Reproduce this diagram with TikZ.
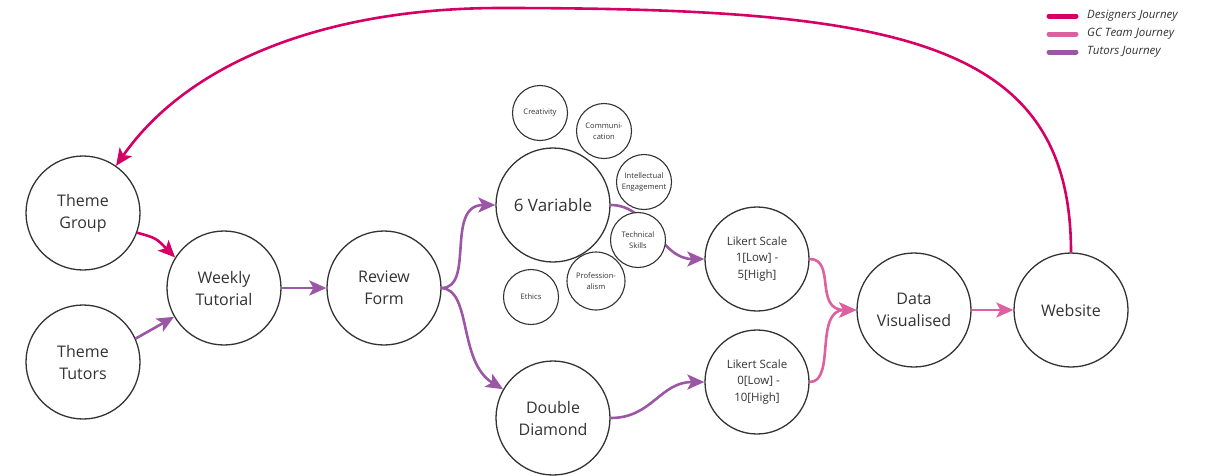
\documentclass[tikz,border=0pt]{standalone}
\usepackage{fontspec}
\setmainfont{Open Sans}
\usetikzlibrary{arrows.meta}
\definecolor{designers}{RGB}{214,0,100}
\definecolor{gcteam}{RGB}{221,96,160}
\definecolor{tutors}{RGB}{156,86,166}
\definecolor{ring}{RGB}{51,51,51}
\begin{document}
\begin{tikzpicture}[x=1pt, y=-1pt,
    stage/.style={circle, draw=ring, line width=1.3pt, fill=white, text=ring, minimum size=114pt, inner sep=0pt, align=center, font=\fontsize{16}{22}\selectfont},
    likert/.style={stage, minimum size=104pt, font=\fontsize{11.5}{16.5}\selectfont},
    facet/.style={stage, minimum size=55pt, line width=1.1pt, font=\fontsize{7.6}{11}\selectfont},
    flow/.style={line width=2.6pt, -{Stealth[length=17pt, width=15pt, inset=4pt]}},
    legend/.style={anchor=west, inner sep=0pt, text=ring, font=\fontsize{11.5}{14}\selectfont\itshape}]
    \useasboundingbox (0,0) rectangle (1217,475);

    % Nodes
    \node[stage] at (83, 213) (tg) {Theme\\Group};
    \node[stage] at (83, 362) (tt) {Theme\\Tutors};
    \node[stage] at (224, 288) (wt) {Weekly\\Tutorial};
    \node[stage] at (384, 288) (rf) {Review\\Form};
    \node[stage, font=\fontsize{17}{22}\selectfont] at (553, 205) (sv) {6 Variable};
    \node[stage] at (553, 418) (dd) {Double\\Diamond};
    \node[likert] at (757, 259) (lone) {Likert Scale\\1[Low] -\\5[High]};
    \node[likert] at (757, 382) (lzero) {Likert Scale\\\ 0[Low] -\\10[High]};
    \node[stage] at (914, 310) (dv) {Data\\Visualised};
    \node[stage] at (1071, 310) (web) {Website};

    % the six variables
    \node[facet] at (540, 113) (cre) {Creativity};
    \node[facet] at (604, 131) (com) {Communi-\\cation};
    \node[facet] at (644, 182) (ie) {Intellectual\\Engagement};
    \node[facet] at (531, 297) (eth) {Ethics};
    \node[facet, minimum size=58pt] at (596, 281) (pro) {Profession-\\alism};

    % Tutors journey
    \draw[flow, tutors] (tt.24) -- (wt.210);
    \draw[flow, tutors] (wt.east) -- (rf.west);
    \draw[flow, tutors] (rf.east) .. controls (475, 288) and (445, 205) .. (sv.west);
    \draw[flow, tutors] (rf.east) .. controls (472, 290) and (458, 362) .. (dd.150);
    \draw[flow, tutors] (sv.east) .. controls (650, 205) and (660, 259) .. (lone.west);
    \draw[flow, tutors] (dd.east) .. controls (652, 418) and (660, 382) .. (lzero.west);
    \node[facet] at (638, 240) (ts) {Technical\\Skills};

    % GC team journey
    \draw[flow, gcteam] (lone.east) .. controls (836, 259) and (814, 310) .. (dv.west);
    \draw[flow, gcteam] (lzero.east) .. controls (836, 382) and (814, 310) .. (dv.west);
    \draw[flow, gcteam] (dv.east) -- (web.west);

    % Designers journey
    \draw[flow, designers] (tg.-20) .. controls (156, 238) .. (wt.148);
    \draw[flow, designers] (web.north) .. controls (1071, 40) and (900, 8) .. (500, 8)
        .. controls (330, 8) and (190, 60) .. (tg.55);

    % Legend
    \node[legend] at (1087, 16) (ldes) {Designers Journey};
    \node[legend] at (1087, 34) (lgc) {GC Team Journey};
    \node[legend] at (1087, 52) (ltut) {Tutors Journey};
    \draw[designers, line width=5pt, line cap=round] ([xshift=-11pt]ldes.west) -- ++(-27, 0);
    \draw[gcteam, line width=5pt, line cap=round] ([xshift=-11pt]lgc.west) -- ++(-27, 0);
    \draw[tutors, line width=5pt, line cap=round] ([xshift=-11pt]ltut.west) -- ++(-27, 0);

\end{tikzpicture}
\end{document}
